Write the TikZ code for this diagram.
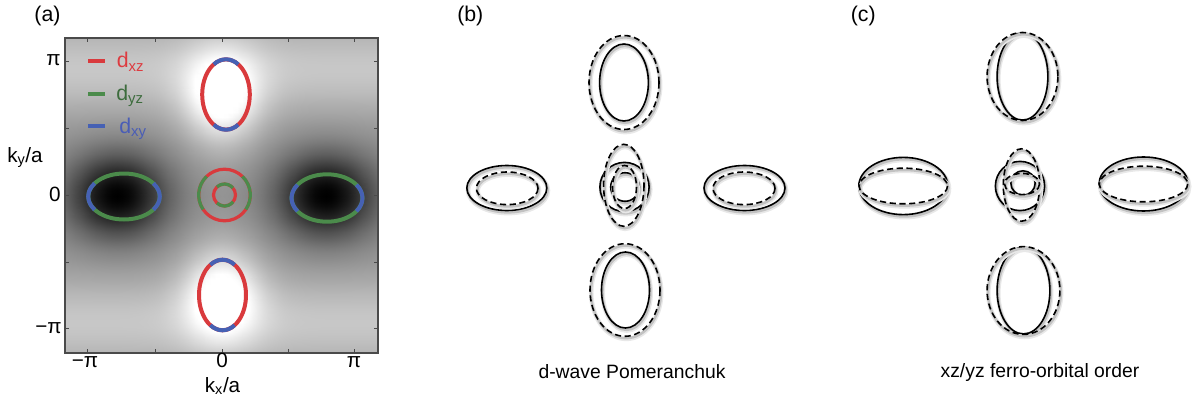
\documentclass[tikz,border=0pt]{standalone}
\usepackage{fontspec}
\setmainfont{Liberation Sans}
\usepackage{pgfplots}
\pgfplotsset{compat=1.18}
\definecolor{orbred}{HTML}{D93A3D}
\definecolor{orbgreen}{HTML}{4B8B4B}
\definecolor{orbblue}{HTML}{4661B4}
\definecolor{txtred}{HTML}{DD3B40}
\definecolor{txtgreen}{HTML}{3D6C3D}
\definecolor{txtblue}{HTML}{4A5DB6}
\definecolor{framecol}{HTML}{4A4A4A}
\begin{document}
\begin{tikzpicture}[x=0.75pt,y=-0.75pt,
  lbl/.style={font=\fontsize{15.5}{18}\selectfont, inner sep=0pt},
  panel/.style={font=\fontsize{16}{19}\selectfont, inner sep=0pt},
  captext/.style={font=\fontsize{14.5}{17}\selectfont, inner sep=0pt},
  legtext/.style={font=\fontsize{16}{19}\selectfont, inner sep=0pt},
  pocket/.style={line width=3pt},
  hole/.style={line width=2.4pt},
  frametick/.style={framecol, line width=0.7pt},
  shadowed/.style={
    preaction={draw=black!9, line width=3.4pt, transform canvas={shift={(1.2,2.6)}}},
    preaction={draw=black!24, line width=1.8pt, transform canvas={shift={(1,1.9)}}}},
  fs/.style={line width=1.2pt, shadowed},
  fd/.style={line width=1.2pt, dash pattern=on 4.6pt off 2.7pt, shadowed},
  legmark/.style={line width=3.6pt}]
\useasboundingbox (0,0) rectangle (1198,403);

% ---------- (a): band-energy map with the orbital-coloured Fermi surface
\coordinate (mapSW) at (65,353);
\begin{scope}[x=1cm,y=1cm]
\begin{axis}[at={(mapSW)}, anchor=south west, width=234.75pt, height=236.25pt,
  scale only axis, hide axis, xmin=-1.17, xmax=1.17, ymin=-1.18, ymax=1.18,
  view={0}{90}, colormap={grayramp}{gray(0cm)=(0); gray(1cm)=(1)},
  point meta min=0, point meta max=1]
\addplot3[surf, shader=interp, domain=-1.17:1.17, y domain=-1.18:1.18, samples=61]
  {max(0,min(1, 0.58
    - 0.58*exp(-((abs(x)-0.78)^2)/0.14 - (y^2)/0.1)
    + 0.42*exp(-(x^2)/0.08 - ((abs(y)-0.74)^2)/0.13)
    + 0.2*exp(-((abs(y)-0.95)^2)/0.12)))};
\end{axis}
\end{scope}
\draw[framecol, line width=0.8pt] (65,38) rectangle (378,353);
\foreach \t in {87,155,222,288,354}{
  \draw[frametick] (\t,353) -- (\t,349);
  \draw[frametick] (\t,38) -- (\t,42);
}
\foreach \t in {61,128,195,262,328}{
  \draw[frametick] (65,\t) -- (69,\t);
  \draw[frametick] (378,\t) -- (374,\t);
}

% electron pockets
\draw[pocket, orbred] (226,94.5) ellipse (23.8 and 35.2);
\draw[pocket, orbblue] (226,94.5) ++(59:23.8 and 35.2) arc[start angle=59, end angle=121, x radius=23.8, y radius=35.2];
\draw[pocket, orbblue] (226,94.5) ++(239:23.8 and 35.2) arc[start angle=239, end angle=301, x radius=23.8, y radius=35.2];

\draw[pocket, orbred] (222.5,295) ellipse (23.5 and 35.3);
\draw[pocket, orbblue] (222.5,295) ++(59:23.5 and 35.3) arc[start angle=59, end angle=121, x radius=23.5, y radius=35.3];
\draw[pocket, orbblue] (222.5,295) ++(239:23.5 and 35.3) arc[start angle=239, end angle=301, x radius=23.5, y radius=35.3];

\draw[pocket, orbgreen] (124,196.5) ellipse (35.8 and 23);
\draw[pocket, orbblue] (124,196.5) ++(-35:35.8 and 23) arc[start angle=-35, end angle=35, x radius=35.8, y radius=23];
\draw[pocket, orbblue] (124,196.5) ++(145:35.8 and 23) arc[start angle=145, end angle=215, x radius=35.8, y radius=23];

\draw[pocket, orbgreen] (327,198) ellipse (35.5 and 23.7);
\draw[pocket, orbblue] (327,198) ++(-34:35.5 and 23.7) arc[start angle=-34, end angle=34, x radius=35.5, y radius=23.7];
\draw[pocket, orbblue] (327,198) ++(146:35.5 and 23.7) arc[start angle=146, end angle=214, x radius=35.5, y radius=23.7];

% hole pockets
\draw[hole, orbred] (224.5,195) circle[radius=25.8];
\draw[hole, orbgreen] (224.5,195) ++(-46:25.8) arc[start angle=-46, end angle=34, radius=25.8];
\draw[hole, orbgreen] (224.5,195) ++(146:25.8) arc[start angle=146, end angle=226, radius=25.8];
\draw[hole, orbred] (224.5,195) circle[radius=11];
\draw[hole, orbgreen] (224.5,195) ++(38:11) arc[start angle=38, end angle=133, radius=11];
\draw[hole, orbgreen] (224.5,195) ++(227:11) arc[start angle=227, end angle=320, radius=11];

% legend
\coordinate (lgA) at (88,61);  \coordinate (lgA2) at (105,61);
\coordinate (lgB) at (88,94);  \coordinate (lgB2) at (105,94);
\coordinate (lgC) at (88,126); \coordinate (lgC2) at (105,126);
\draw[legmark, orbred] (lgA) -- (lgA2);
\draw[legmark, orbgreen] (lgB) -- (lgB2);
\draw[legmark, orbblue] (lgC) -- (lgC2);
\node[legtext, anchor=base west, text=txtred] (legxz) at (116.5,68) {d\textsubscript{xz}};
\node[legtext, anchor=base west, text=txtgreen] (legyz) at (116,100) {d\textsubscript{yz}};
\node[legtext, anchor=base west, text=txtblue] (legxy) at (119,133) {d\textsubscript{xy}};

% axis labels
\node[lbl, anchor=base east] (yPi) at (61,65) {π};
\node[lbl, anchor=base east] (yZero) at (61,201.5) {0};
\node[lbl, anchor=base east] (yMinusPi) at (62,333) {−π};
\node[lbl, anchor=base] (xMinusPi) at (85,367) {−π};
\node[lbl, anchor=base] (xZero) at (222,367) {0};
\node[lbl, anchor=base] (xPi) at (354,367) {π};
\node[lbl, anchor=base] (kyLab) at (25,162) {k\textsubscript{y}/a};
\node[lbl, anchor=base] (kxLab) at (222.5,392) {k\textsubscript{x}/a};
\node[panel, anchor=base] (labA) at (47.5,22) {(a)};

% ---------- (b): d-wave Pomeranchuk distortion
\node[panel, anchor=base] (labB) at (470.3,22) {(b)};
\draw[fs] (624,82.5) ellipse (24.4 and 38.5);
\draw[fd] (624,82.5) ellipse (35 and 47);
\draw[fs] (506.8,188) ellipse (40 and 22.5);
\draw[fd] (507.2,188.3) ellipse (30.8 and 16.3);
\draw[fs] (744.5,188) ellipse (40.5 and 22.5);
\draw[fd] (744,188.3) ellipse (31 and 16.3);
\draw[fs] (625.5,290) ellipse (24 and 38);
\draw[fd] (625,290) ellipse (35 and 46.3);
\draw[fs] (624.5,187) circle[radius=24.6];
\draw[fs] (625,187) circle[radius=14.3];
\draw[fd] (623.8,185.3) ellipse (20.2 and 41);
\draw[fd] (624.5,187) ellipse (12 and 21.5);
\node[captext, anchor=base] (capB) at (632,378) {d-wave Pomeranchuk};

% ---------- (c): xz/yz ferro-orbital order
\node[panel, anchor=base] (labC) at (863.3,22) {(c)};
\draw[fs] (1022.5,76.5) ellipse (25.4 and 43.6);
\draw[fd] (1022.5,76.5) ellipse (35.4 and 44);
\draw[fs] (1023.5,290.5) ellipse (26.4 and 43.4);
\draw[fd] (1023.5,290.5) ellipse (36.4 and 43.9);
\draw[fs] (903.3,186) ellipse (44.5 and 28.6);
\draw[fd] (903.3,186) ellipse (44.2 and 17.8);
\draw[fs] (1143.5,184) ellipse (44.5 and 27);
\draw[fd] (1143.5,184) ellipse (44.2 and 17.8);
\draw[fs] (1020,186) circle[radius=24.6];
\draw[fs] (1023,183) circle[radius=12.2];
\draw[fd] (1021.5,185) ellipse (18.2 and 36.2);
\draw[fd] (1022,184) ellipse (17.5 and 10.6);
\node[captext, anchor=base] (capC) at (1040,377) {xz/yz ferro-orbital order};
\end{tikzpicture}
\end{document}
